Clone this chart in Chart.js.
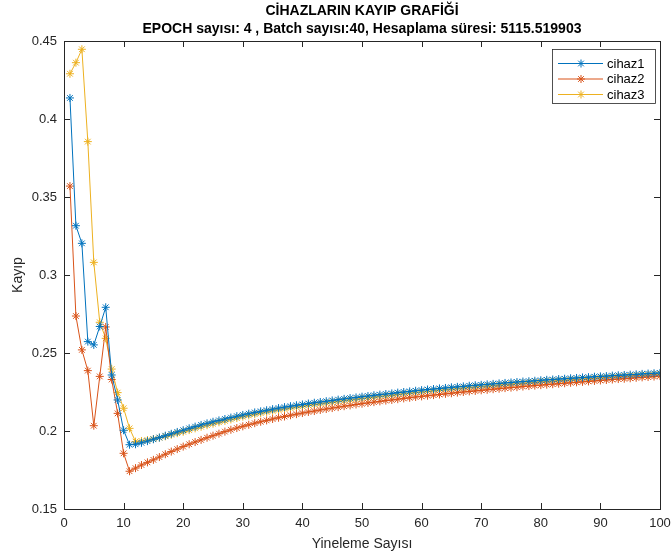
<!DOCTYPE html>
<html>
<head>
<meta charset="utf-8">
<script src="https://cdn.jsdelivr.net/npm/chart.js@4/dist/chart.umd.min.js"></script>
<style>
html,body{margin:0;padding:0;background:#fff;}
#wrap{width:671px;height:556px;position:relative;}
</style>
</head>
<body>
<div id="wrap"><canvas id="c" width="671" height="556"></canvas></div>
<script>
// ---- data ----
const titleLines = ["CİHAZLARIN KAYIP GRAFİĞİ", "EPOCH sayısı: 4 , Batch sayısı:40, Hesaplama süresi: 5115.519903"];
const xAxisLabel = "Yineleme Sayısı";
const yAxisLabel = "Kayıp";
const seriesNames = ["cihaz1", "cihaz2", "cihaz3"];
const xTickValues = [0, 10, 20, 30, 40, 50, 60, 70, 80, 90, 100];
const yTickValues = [0.15, 0.2, 0.25, 0.3, 0.35, 0.4, 0.45];
const yTickLabels = ["0.15", "0.2", "0.25", "0.3", "0.35", "0.4", "0.45"];
const iterations = Array.from({length: 100}, (_, i) => i + 1);

const cihaz1 = [
0.4135,0.3316,0.3203,0.2573,0.2552,0.2670,0.2793,0.2359,0.2199,0.2005,
0.1912,0.1915,0.1924,0.1935,0.1947,0.1958,0.1970,0.1982,0.1994,0.2005,
0.2017,0.2028,0.2039,0.2049,0.2059,0.2068,0.2077,0.2086,0.2095,0.2103,
0.2111,0.2119,0.2126,0.2133,0.2140,0.2147,0.2153,0.2159,0.2165,0.2170,
0.2176,0.2181,0.2186,0.2191,0.2196,0.2201,0.2206,0.2211,0.2215,0.2220,
0.2224,0.2229,0.2233,0.2237,0.2241,0.2246,0.2250,0.2254,0.2258,0.2262,
0.2266,0.2269,0.2273,0.2276,0.2280,0.2283,0.2286,0.2290,0.2293,0.2296,
0.2299,0.2302,0.2305,0.2308,0.2311,0.2314,0.2317,0.2319,0.2322,0.2325,
0.2328,0.2330,0.2333,0.2335,0.2338,0.2340,0.2343,0.2345,0.2348,0.2350,
0.2352,0.2355,0.2357,0.2359,0.2361,0.2363,0.2366,0.2368,0.2370,0.2372];

const cihaz2 = [
0.3570,0.2737,0.2520,0.2387,0.2034,0.2350,0.2667,0.2330,0.2113,0.1857,
0.1742,0.1762,0.1782,0.1799,0.1815,0.1833,0.1851,0.1868,0.1884,0.1900,
0.1915,0.1929,0.1943,0.1957,0.1970,0.1983,0.1996,0.2008,0.2019,0.2030,
0.2040,0.2050,0.2059,0.2068,0.2077,0.2085,0.2093,0.2101,0.2108,0.2115,
0.2122,0.2128,0.2135,0.2141,0.2147,0.2153,0.2159,0.2164,0.2170,0.2175,
0.2180,0.2185,0.2190,0.2195,0.2199,0.2204,0.2209,0.2213,0.2218,0.2222,
0.2226,0.2230,0.2234,0.2238,0.2242,0.2246,0.2250,0.2254,0.2257,0.2261,
0.2264,0.2268,0.2271,0.2275,0.2278,0.2281,0.2285,0.2288,0.2291,0.2294,
0.2297,0.2300,0.2303,0.2306,0.2309,0.2312,0.2315,0.2318,0.2321,0.2324,
0.2327,0.2330,0.2333,0.2335,0.2338,0.2341,0.2344,0.2346,0.2349,0.2352];

const cihaz3 = [
0.4290,0.4361,0.4447,0.3855,0.3081,0.2697,0.2594,0.2397,0.2246,0.2146,
0.2017,0.1932,0.1936,0.1942,0.1949,0.1957,0.1966,0.1976,0.1986,0.1995,
0.2006,0.2017,0.2027,0.2037,0.2047,0.2056,0.2065,0.2074,0.2083,0.2092,
0.2100,0.2108,0.2115,0.2122,0.2129,0.2135,0.2141,0.2147,0.2153,0.2158,
0.2164,0.2169,0.2174,0.2179,0.2184,0.2189,0.2194,0.2199,0.2203,0.2208,
0.2212,0.2217,0.2221,0.2225,0.2229,0.2234,0.2238,0.2242,0.2246,0.2250,
0.2254,0.2257,0.2261,0.2264,0.2268,0.2271,0.2275,0.2278,0.2282,0.2285,
0.2288,0.2291,0.2294,0.2297,0.2300,0.2303,0.2306,0.2309,0.2312,0.2315,
0.2318,0.2320,0.2323,0.2325,0.2328,0.2331,0.2333,0.2336,0.2338,0.2341,
0.2343,0.2346,0.2348,0.2350,0.2353,0.2355,0.2357,0.2359,0.2362,0.2364];

const seriesValues = [cihaz1, cihaz2, cihaz3];
const seriesColors = ["#0072BD", "#D95319", "#EDB120"];

// ---- chart ----
const FONT = "'Liberation Sans', Arial, Helvetica, sans-serif";
const AX = "#262626";

const datasets = seriesValues.map((vals, k) => ({
  label: seriesNames[k],
  data: iterations.map((x, i) => ({x: x, y: vals[i]})),
  borderColor: seriesColors[k],
  backgroundColor: seriesColors[k],
  borderWidth: 1,
  pointStyle: 'star',
  pointRadius: 4,
  pointBorderWidth: 1,
  pointBorderColor: seriesColors[k],
  tension: 0,
  fill: false
}));

const boxPlugin = {
  id: 'matlabBox',
  afterDraw(chart) {
    const ctx = chart.ctx;
    const a = chart.chartArea;
    const xs = chart.scales.x, ys = chart.scales.y;
    ctx.save();
    ctx.strokeStyle = AX;
    ctx.lineWidth = 1;
    ctx.strokeRect(Math.round(a.left) + 0.5, Math.round(a.top) + 0.5,
                   Math.round(a.right - a.left), Math.round(a.bottom - a.top));
    ctx.beginPath();
    const tl = 6;
    xs.ticks.forEach(t => {
      const px = Math.round(xs.getPixelForValue(t.value)) + 0.5;
      ctx.moveTo(px, a.bottom); ctx.lineTo(px, a.bottom - tl);
      ctx.moveTo(px, a.top); ctx.lineTo(px, a.top + tl);
    });
    ys.ticks.forEach(t => {
      const py = Math.round(ys.getPixelForValue(t.value)) + 0.5;
      ctx.moveTo(a.left, py); ctx.lineTo(a.left + tl, py);
      ctx.moveTo(a.right, py); ctx.lineTo(a.right - tl, py);
    });
    ctx.stroke();

    // titles
    ctx.fillStyle = "#000";
    ctx.textAlign = 'center';
    ctx.textBaseline = 'middle';
    ctx.font = "bold 14px " + FONT;
    const cx = (a.left + a.right) / 2;
    ctx.fillText(titleLines[0], cx, 11);
    ctx.fillText(titleLines[1], cx, 29);

    // legend
    const lx = 552, ly = 49, lw = 103, lh = 54;
    ctx.fillStyle = "#fff";
    ctx.fillRect(lx, ly, lw, lh);
    ctx.strokeStyle = AX;
    ctx.lineWidth = 0.8;
    ctx.strokeRect(lx + 0.5, ly + 0.5, lw, lh);
    const rows = [63.5, 79, 94.5];
    chart.data.datasets.forEach((ds, k) => {
      const y = rows[k];
      ctx.strokeStyle = ds.borderColor;
      ctx.lineWidth = 1;
      ctx.beginPath();
      ctx.moveTo(558, y); ctx.lineTo(603, y);
      ctx.stroke();
      Chart.helpers.drawPoint(ctx, {pointStyle: 'star', radius: 4, borderWidth: 1}, 581, y);
      ctx.fillStyle = "#000";
      ctx.textAlign = 'left';
      ctx.font = "13px " + FONT;
      ctx.fillText(ds.label, 607, y + 0.5);
    });
    ctx.restore();
  }
};

new Chart(document.getElementById('c'), {
  type: 'line',
  data: { datasets: datasets },
  plugins: [boxPlugin],
  options: {
    responsive: false,
    animation: false,
    devicePixelRatio: 1,
    layout: { padding: { top: 41, right: 11, left: 0, bottom: 0 } },
    plugins: {
      legend: { display: false },
      title: { display: false },
      tooltip: { enabled: false }
    },
    scales: {
      x: {
        type: 'linear',
        min: 0, max: 100,
        grid: { display: false, drawTicks: false },
        border: { display: false },
        afterBuildTicks: s => { s.ticks = xTickValues.map(v => ({value: v})); },
        afterFit: s => { s.height = 47; s.paddingLeft = 0; s.paddingRight = 0; },
        ticks: {
          color: AX, padding: 7, maxRotation: 0,
          font: { family: FONT, size: 13 },
          callback: v => String(v)
        },
        title: {
          display: true, text: xAxisLabel, color: AX,
          font: { family: FONT, size: 14 },
          padding: { top: 0, bottom: 3 }
        }
      },
      y: {
        type: 'linear',
        min: 0.15, max: 0.45,
        grid: { display: false, drawTicks: false },
        border: { display: false },
        afterBuildTicks: s => { s.ticks = yTickValues.map(v => ({value: v})); },
        afterFit: s => { s.width = 64; s.paddingTop = 0; s.paddingBottom = 0; },
        ticks: {
          color: AX, padding: 7,
          font: { family: FONT, size: 13 },
          callback: v => { const i = yTickValues.findIndex(t => Math.abs(t - v) < 1e-9); return i >= 0 ? yTickLabels[i] : ''; }
        },
        title: {
          display: true, text: yAxisLabel, color: AX,
          font: { family: FONT, size: 14 },
          padding: { top: 10, bottom: 0 }
        }
      }
    }
  }
});
</script>
</body>
</html>
